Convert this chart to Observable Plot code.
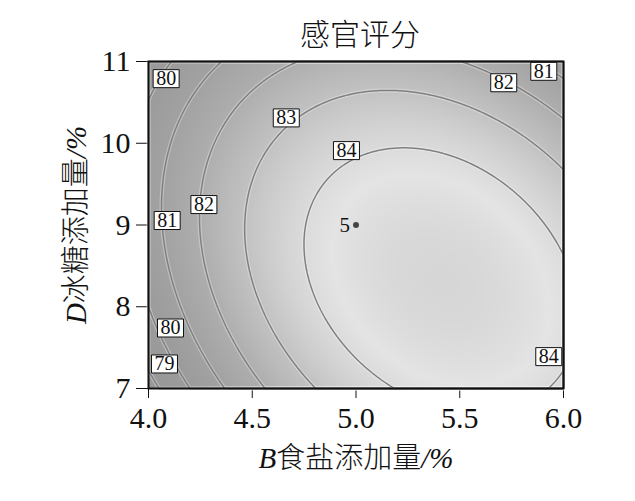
<!DOCTYPE html>
<html><head><meta charset="utf-8">
<script src="https://cdn.jsdelivr.net/npm/d3@7"></script>
<script src="https://cdn.jsdelivr.net/npm/@observablehq/plot@0.6"></script>
<style>
html,body{margin:0;padding:0;background:#fff;}
#chart svg{display:block;}
</style></head><body><div id="chart"></div>
<script>
// ---- data ----
const titleText = "感官评分";
const xDomain = [4.0, 6.0];
const yDomain = [7, 11];
const xTicks = [4.0, 4.5, 5.0, 5.5, 6.0];
const yTicks = [7, 8, 9, 10, 11];
const contourLevels = [79, 80, 81, 82, 83, 84];
// quadratic response surface (B = 食盐, D = 冰糖) estimated from the contour lines
const surfaceCenter = [5.41, 8.32];
const surfacePeak = [84.95];
const curvature = [2.35, 0.389, 0.52]; // BB, DD, BD
// contour labels
const labelB = [4.085, 5.712, 5.905, 4.664, 4.954, 4.267, 4.09, 4.106, 4.077, 5.929];
const labelD = [10.79, 10.74, 10.88, 10.31, 9.91, 9.25, 9.055, 7.74, 7.30, 7.39];
const labelText = ["80", "82", "81", "83", "84", "82", "81", "80", "79", "84"];
// design point
const pointB = [5.0];
const pointD = [9.0];
const pointText = ["5"];
// grey shading
const shadeLevels = [78, 80, 81, 82, 83, 84, 84.35, 85];
const shadeGrays = ["#979797", "#9b9b9b", "#a2a2a2", "#aeaeae", "#c2c2c2", "#dbdbdb", "#e4e4e4", "#d5d5d5"];

const score = (b, d) => {
  const u = b - surfaceCenter[0], v = d - surfaceCenter[1];
  return surfacePeak[0] - (curvature[0] * u * u + curvature[1] * v * v + curvature[2] * u * v);
};

const labels = labelText.map((t, i) => ({b: labelB[i], d: labelD[i], t}));
const points = pointText.map((t, i) => ({b: pointB[i], d: pointD[i], t}));

const boxSymbol = {draw(ctx) { ctx.rect(-13, -9, 26, 18); }};
const serif = "'Liberation Serif', 'Times New Roman', serif";
const cjk = "'Noto Sans CJK SC', sans-serif";
const area = {x1: xDomain[0], x2: xDomain[1], y1: yDomain[0], y2: yDomain[1]};

const chart = Plot.plot({
  width: 635, height: 501,
  marginLeft: 148, marginRight: 72, marginTop: 61, marginBottom: 113,
  x: {domain: xDomain, ticks: xTicks, tickFormat: d3.format(".1f"), tickSize: 10, tickPadding: 8, label: null},
  y: {domain: yDomain, ticks: yTicks, tickFormat: d3.format("d"), tickSize: 12, tickPadding: 6, label: null},
  color: {type: "linear", domain: shadeLevels, range: shadeGrays},
  style: {fontFamily: serif, fontSize: "30px", color: "#111", background: "white"},
  marks: [
    Plot.raster({...area, fill: score, pixelSize: 1}),
    Plot.contour({...area, value: score, thresholds: contourLevels, fill: "none", stroke: "white", strokeOpacity: 0.3, strokeWidth: 4, pixelSize: 1}),
    Plot.contour({...area, value: score, thresholds: contourLevels, fill: "none", stroke: "#808080", strokeWidth: 1.5, pixelSize: 1}),
    Plot.dot(points, {x: "b", y: "d", r: 3, fill: "#444"}),
    Plot.text(points, {x: "b", y: "d", text: "t", dx: -6, textAnchor: "end", fontSize: 21, fill: "#111"}),
    Plot.dot(labels, {x: "b", y: "d", symbol: boxSymbol, r: 5, fill: "white", stroke: "#111", strokeWidth: 1}),
    Plot.text(labels, {x: "b", y: "d", text: "t", fontSize: 20, fill: "#111"}),
    Plot.frame({stroke: "#111", strokeWidth: 2})
  ]
});

document.getElementById("chart").appendChild(chart);
const svg = d3.select(chart);

svg.append("text")
  .attr("x", 360).attr("y", 45)
  .attr("text-anchor", "middle")
  .style("font-family", cjk).style("font-size", "30px").style("font-weight", 300).attr("fill", "#111")
  .text(titleText);

const xl = svg.append("text")
  .attr("x", 356).attr("y", 468)
  .attr("text-anchor", "middle").attr("fill", "#111")
  .style("font-size", "29px");
xl.append("tspan").style("font-family", serif).style("font-style", "italic").text("B");
xl.append("tspan").style("font-family", cjk).style("font-weight", 300).text("食盐添加量");
xl.append("tspan").style("font-family", serif).style("font-style", "italic").text("/%");

const yl = svg.append("text")
  .attr("transform", "translate(86,225) rotate(-90)")
  .attr("text-anchor", "middle").attr("fill", "#111")
  .style("font-size", "29px");
yl.append("tspan").style("font-family", serif).style("font-style", "italic").text("D");
yl.append("tspan").style("font-family", cjk).style("font-weight", 300).text("冰糖添加量");
yl.append("tspan").style("font-family", serif).style("font-style", "italic").text("/%");
</script>
</body></html>
